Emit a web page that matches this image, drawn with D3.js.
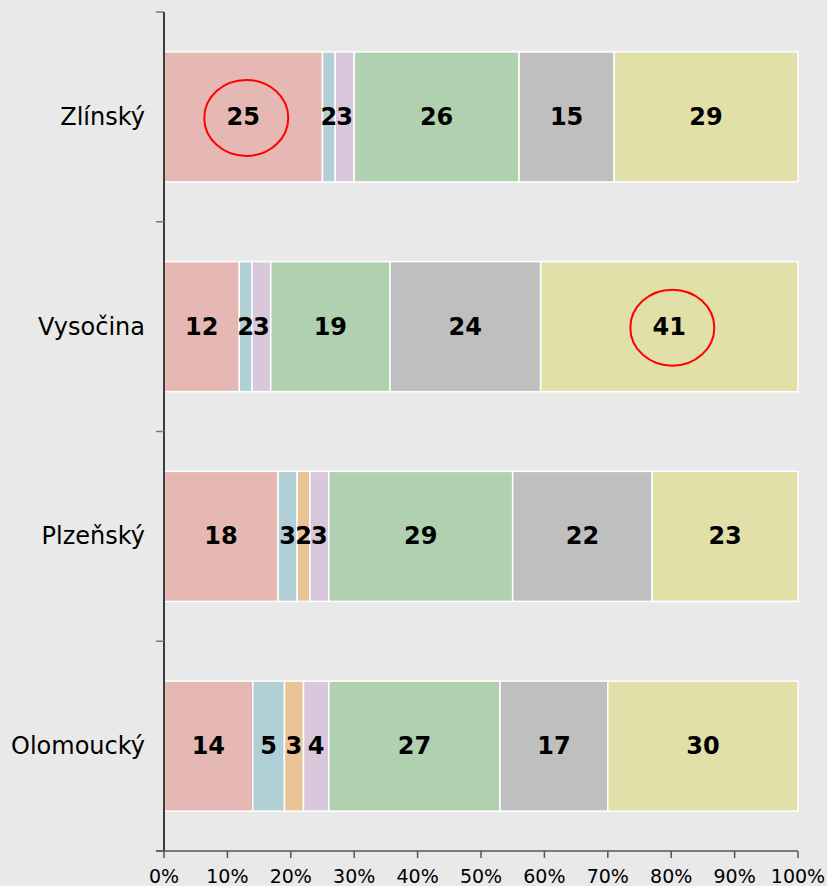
<!DOCTYPE html>
<html><head><meta charset="utf-8">
<script src="https://cdn.jsdelivr.net/npm/d3@7"></script>
<style>body{margin:0;background:#e9e9e9;}svg{display:block;}</style>
</head><body>
<svg id="c" width="827" height="886"></svg>
<script>
const categories = ["Zlínský", "Vysočina", "Plzeňský", "Olomoucký"];
const seriesNames = ["s1","s2","s3","s4","s5","s6","s7"];
const s1 = [25, 12, 18, 14];
const s2 = [2, 2, 3, 5];
const s3 = [0, 0, 2, 3];
const s4 = [3, 3, 3, 4];
const s5 = [26, 19, 29, 27];
const s6 = [15, 24, 22, 17];
const s7 = [29, 41, 23, 30];
const colors = ["#e6b8b3", "#b0cfd6", "#ebc495", "#d9c8dc", "#afd1b0", "#bfbfbf", "#e1e0a9"];
const tickValues = [0, 0.1, 0.2, 0.3, 0.4, 0.5, 0.6, 0.7, 0.8, 0.9, 1.0];
const highlights = [{cat: "Zlínský", series: 0}, {cat: "Vysočina", series: 6}];

const allSeries = [s1, s2, s3, s4, s5, s6, s7];
const rows = categories.map((c, i) => {
  const tot = d3.sum(allSeries, s => s[i]);
  const o = {cat: c, total: tot};
  seriesNames.forEach((n, k) => o[n] = allSeries[k][i] / tot);
  return o;
});
const stacked = d3.stack().keys(seriesNames)(rows);

const svg = d3.select("#c");
const FONT = "DejaVu Sans, Verdana, sans-serif";
const x = d3.scaleLinear().domain([0, 1]).range([164, 798]);
const y = d3.scaleBand().domain(categories).range([12, 851]).paddingInner(0.38).paddingOuter(0.19);

// bars
const g = svg.append("g");
stacked.forEach((layer, k) => {
  g.selectAll(null).data(layer.filter(d => d[1] - d[0] > 0)).enter().append("rect")
    .attr("x", d => x(d[0])).attr("width", d => x(d[1]) - x(d[0]))
    .attr("y", d => y(d.data.cat)).attr("height", y.bandwidth())
    .attr("fill", colors[k]).attr("stroke", "#ffffff").attr("stroke-width", 1.5);
});
// labels
stacked.forEach((layer, k) => {
  g.selectAll(null).data(layer.filter(d => d[1] - d[0] > 0)).enter().append("text")
    .attr("x", d => x((d[0] + d[1]) / 2)).attr("y", d => y(d.data.cat) + y.bandwidth() / 2)
    .attr("text-anchor", "middle").attr("dominant-baseline", "central")
    .attr("font-family", FONT).attr("font-weight", "bold")
    .attr("font-size", 24).attr("fill", "#000")
    .text(d => allSeries[k][categories.indexOf(d.data.cat)]);
});
// highlight circles
highlights.forEach(h => {
  const d = stacked[h.series].find(e => e.data.cat === h.cat);
  svg.append("ellipse")
    .attr("cx", x((d[0] + d[1]) / 2) + 3).attr("cy", y(h.cat) + y.bandwidth() / 2 + 1)
    .attr("rx", 42).attr("ry", 38)
    .attr("fill", "none").attr("stroke", "#ff0000").attr("stroke-width", 2);
});

// y axis
svg.append("line").attr("x1", 164).attr("x2", 164).attr("y1", 12).attr("y2", 851).attr("stroke", "#000").attr("stroke-width", 1.5);
const ticksY = [0, 1, 2, 3, 4].map(i => 12 + i * y.step());
svg.selectAll(null).data(ticksY).enter().append("line")
  .attr("x1", 156).attr("x2", 164).attr("y1", d => d).attr("y2", d => d)
  .attr("stroke", "#777").attr("stroke-width", 1.5);
svg.selectAll(null).data(categories).enter().append("text")
  .attr("x", 145).attr("y", c => y(c) + y.bandwidth() / 2)
  .attr("text-anchor", "end").attr("dominant-baseline", "central")
  .attr("font-family", FONT).attr("font-size", 24).attr("fill", "#000")
  .text(c => c);

// x axis
svg.append("line").attr("x1", 156).attr("x2", 798).attr("y1", 851).attr("y2", 851).attr("stroke", "#555").attr("stroke-width", 1.5);
svg.selectAll(null).data(tickValues).enter().append("line")
  .attr("x1", d => x(d)).attr("x2", d => x(d)).attr("y1", 851).attr("y2", 858)
  .attr("stroke", "#555").attr("stroke-width", 1.5);
svg.selectAll(null).data(tickValues).enter().append("text")
  .attr("x", d => x(d)).attr("y", 876).attr("text-anchor", "middle").attr("dominant-baseline", "central")
  .attr("font-family", FONT).attr("font-size", 19).attr("fill", "#000")
  .text(d => d3.format(".0%")(d));
</script>
</body></html>
